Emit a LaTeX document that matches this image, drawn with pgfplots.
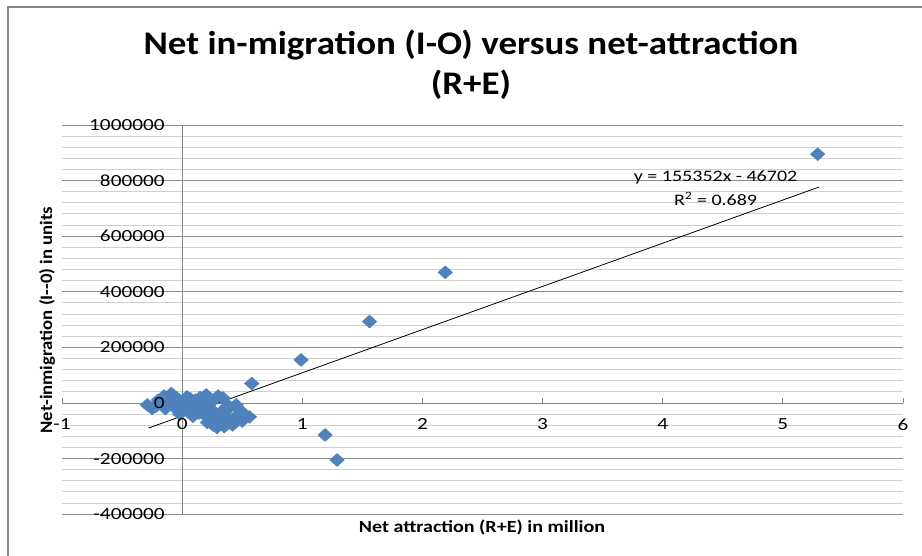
\documentclass[border=0pt]{standalone}
\usepackage{fontspec}
\setmainfont[FakeStretch=1.25]{Carlito}
\newfontfamily\ylabfont[FakeStretch=1.07]{Carlito}
\newfontfamily\xlabfont[FakeStretch=1.18]{Carlito}
\newfontfamily\titlefont[FakeStretch=1.12]{Carlito}
\usepackage{pgfplots}
\pgfplotsset{compat=1.18}
\definecolor{exblue}{HTML}{4F81BD}
\definecolor{axgray}{HTML}{868686}
\definecolor{majgray}{HTML}{8C8C8C}
\definecolor{mingray}{HTML}{D0D0D0}
\begin{document}
\begin{tikzpicture}[x=1pt,y=1pt]
\useasboundingbox (0,0) rectangle (922,556);
\draw[axgray, line width=2pt] (8,0) -- (8,549) -- (922,549);
\node[font=\titlefont\fontsize{33}{40}\selectfont\bfseries, align=center] at (471,556-65) {Net in-migration (I-O) versus net-attraction\\(R+E)};
\begin{axis}[
  at={(62pt,41.8pt)}, anchor=south west,
  scale only axis, width=841pt, height=389.2pt,
  xmin=-1, xmax=6, ymin=-400000, ymax=1000000,
  axis lines=middle,
  axis line style={-, axgray, line width=0.9pt},
  xtick={-1,0,1,2,3,4,5,6},
  xticklabels={-1,,1,2,3,4,5,6},
  ytick={-400000,-200000,0,200000,400000,600000,800000,1000000},
  yticklabels={-400000,-200000,,200000,400000,600000,800000,1000000},
  scaled y ticks=false, scaled x ticks=false,
  minor y tick num=4,
  ymajorgrids, yminorgrids,
  major grid style={majgray, line width=0.7pt},
  minor grid style={mingray, line width=1pt},
  tick align=inside,
  major tick length=5pt,
  x tick style={axgray, line width=0.8pt},
  ytick style={draw=none},
  minor tick length=0pt,
  /pgf/number format/assume math mode=true,
  tick label style={font=\fontsize{17}{20}\selectfont},
  xticklabel style={anchor=north, yshift=-12pt},
  yticklabel style={anchor=east, xshift=-14pt},
  clip=false,
]
\addplot[only marks, mark=diamond*, mark size=6.5pt, mark options={xscale=1.5, fill=exblue, draw=exblue}] coordinates {
(5.29,895000) (2.19,470000) (1.56,293000) (0.99,155000) (0.58,70000) (1.19,-115000) (1.29,-205000)
(-0.29,-7000) (-0.22,-12000) (-0.17,4000) (-0.12,12000) (-0.09,34000) (-0.06,-18000) (-0.03,8000)
(-0.02,-40000) (0.01,-22000) (0.04,22000) (0.06,-5000) (0.09,-48000) (0.11,10000) (0.14,-36000)
(0.16,-15000) (0.18,2000) (0.20,29000) (0.23,-18000) (0.25,-55000) (0.27,12000) (0.29,-88000)
(0.31,-70000) (0.33,-30000) (0.34,18000) (0.37,-50000) (0.40,-15000) (0.42,-79000) (0.45,-7000)
(0.47,-40000) (0.50,-65000) (0.56,-50000) (0.08,-30000) (-0.14,-20000)
(-0.25,-20000) (-0.20,10000) (-0.15,25000) (-0.10,-5000) (-0.05,20000) (0.00,0) (0.03,-10000)
(0.07,15000) (0.12,-20000) (0.15,20000) (0.19,-45000) (0.21,-70000) (0.24,5000) (0.28,-40000)
(0.30,25000) (0.35,-85000) (0.38,-10000) (0.44,-55000) (0.48,-25000) (0.53,-45000) (0.26,-80000)
(0.39,-70000)
};
\addplot[black, line width=0.8pt] coordinates {(-0.28,-90200) (5.3,776664)};
\node[font=\fontsize{16}{19}\selectfont] at (axis cs:4.44,812000) {y = 155352x - 46702};
\node[font=\fontsize{16}{19}\selectfont] at (axis cs:4.44,733000) {R\textsuperscript{2} = 0.689};
\coordinate (O) at (axis cs:0,0);
\end{axis}
\node[font=\fontsize{17}{20}\selectfont, anchor=north, inner sep=3.33pt] at ([yshift=-12pt]O) {0};
\node[font=\fontsize{17}{20}\selectfont, anchor=east, inner sep=3.33pt] at ([xshift=-14pt]O) {0};
\node[font=\xlabfont\fontsize{17}{20}\selectfont\bfseries] at (482,556-527) {Net attraction (R+E) in million};
\node[font=\ylabfont\fontsize{17.5}{20}\selectfont\bfseries, rotate=90] at (47,556-320) {Net-inmigration (I-{}-0) in units};
\end{tikzpicture}
\end{document}
